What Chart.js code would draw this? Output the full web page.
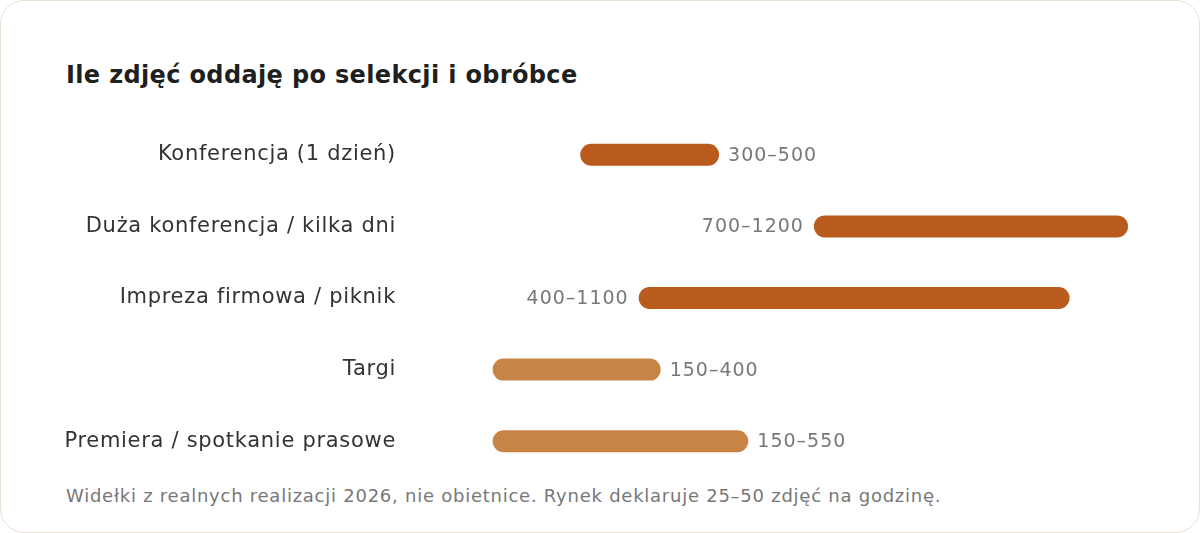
<!DOCTYPE html>
<html lang="pl">
<head>
<meta charset="utf-8">
<script src="https://cdn.jsdelivr.net/npm/chart.js@4.4.1/dist/chart.umd.min.js"></script>
<style>
  html, body { margin: 0; padding: 0; background: #fff; }
  body { width: 1200px; height: 533px; position: relative; overflow: hidden; font-family: "DejaVu Sans", sans-serif; }
  .card { position: absolute; left: 0; top: 0; width: 1200px; height: 533px; box-sizing: border-box; border: 1px solid #e6e2d3; border-radius: 24px; }
  .title { position: absolute; left: 66px; top: 60px; margin: 0; font-size: 24px; font-weight: 700; color: #1f1f1f; line-height: 30px; letter-spacing: 0.35px; }
  .note { position: absolute; left: 66px; top: 485px; margin: 0; font-size: 18px; color: #777; line-height: 22px; letter-spacing: 0.75px; }
  .chart-box { position: absolute; left: 0; top: 119px; width: 1200px; height: 358px; }
</style>
</head>
<body>
<div class="card"></div>
<h2 class="title">Ile zdjęć oddaję po selekcji i obróbce</h2>
<div class="chart-box"><canvas id="rangeChart"></canvas></div>
<p class="note">Widełki z realnych realizacji 2026, nie obietnice. Rynek deklaruje 25–50 zdjęć na godzinę.</p>

<script>
const categories = ['Konferencja (1 dzień)', 'Duża konferencja / kilka dni', 'Impreza firmowa / piknik', 'Targi', 'Premiera / spotkanie prasowe'];
const rangeFrom = [300, 700, 400, 150, 150];
const rangeTo = [500, 1200, 1100, 400, 550];
const barColors = ['#b85b1c', '#b85b1c', '#b85b1c', '#c88445', '#c88445'];

const capSize = 11;
const fontFamily = '"DejaVu Sans", sans-serif';

// a bit of tracking so the labels are as wide as in the design
const spacing = {
    id: 'spacing',
    beforeDraw(chart) {
        chart.ctx.letterSpacing = '0.7px';
    }
};

// the round caps sit outside the range ends, like a line with round linecap
const roundCaps = {
    id: 'roundCaps',
    beforeDatasetsDraw(chart) {
        chart.getDatasetMeta(0).data.forEach(bar => {
            bar.x += capSize;
            bar.base -= capSize;
        });
    },
    afterDatasetsDraw(chart) {
        chart.getDatasetMeta(0).data.forEach(bar => {
            bar.x -= capSize;
            bar.base += capSize;
        });
    }
};

// puts "od–do" next to each bar, or before it when there's no room on the right
const rangeLabels = {
    id: 'rangeLabels',
    afterDatasetsDraw(chart) {
        const ctx = chart.ctx;
        const meta = chart.getDatasetMeta(0);
        const area = chart.chartArea;
        ctx.save();
        ctx.font = '19px ' + fontFamily;
        ctx.letterSpacing = '1px';
        ctx.fillStyle = '#787878';
        ctx.textBaseline = 'middle';
        meta.data.forEach((bar, i) => {
            const text = rangeFrom[i] + '–' + rangeTo[i];
            const w = ctx.measureText(text).width;
            const left = Math.min(bar.x, bar.base) - capSize;
            const right = Math.max(bar.x, bar.base) + capSize;
            if (right + 10 + w > area.right) {
                ctx.textAlign = 'right';
                ctx.fillText(text, left - 10, bar.y + 1);
            } else {
                ctx.textAlign = 'left';
                ctx.fillText(text, right + 9, bar.y + 1);
            }
        });
        ctx.restore();
    }
};

new Chart(document.getElementById('rangeChart'), {
    type: 'bar',
    data: {
        labels: categories,
        datasets: [{
            data: categories.map((c, i) => [rangeFrom[i], rangeTo[i]]),
            backgroundColor: barColors,
            borderWidth: 0,
            borderSkipped: false,
            borderRadius: capSize,
            inflateAmount: 0,
            barThickness: 22,
            clip: false
        }]
    },
    options: {
        indexAxis: 'y',
        responsive: true,
        maintainAspectRatio: false,
        animation: false,
        layout: { autoPadding: false, padding: { left: 0, right: 83, top: 0, bottom: 0 } },
        scales: {
            x: { display: false, min: 0, max: 1200 },
            y: {
                grid: { display: false, drawTicks: false },
                border: { display: false },
                ticks: {
                    color: '#333',
                    padding: 20,
                    font: { family: fontFamily, size: 21 }
                },
                afterFit(scale) {
                    scale.width = 416;
                    scale.paddingTop = 0;
                    scale.paddingBottom = 0;
                }
            }
        },
        plugins: {
            legend: { display: false },
            tooltip: { enabled: false }
        }
    },
    plugins: [spacing, roundCaps, rangeLabels]
});
</script>
</body>
</html>
